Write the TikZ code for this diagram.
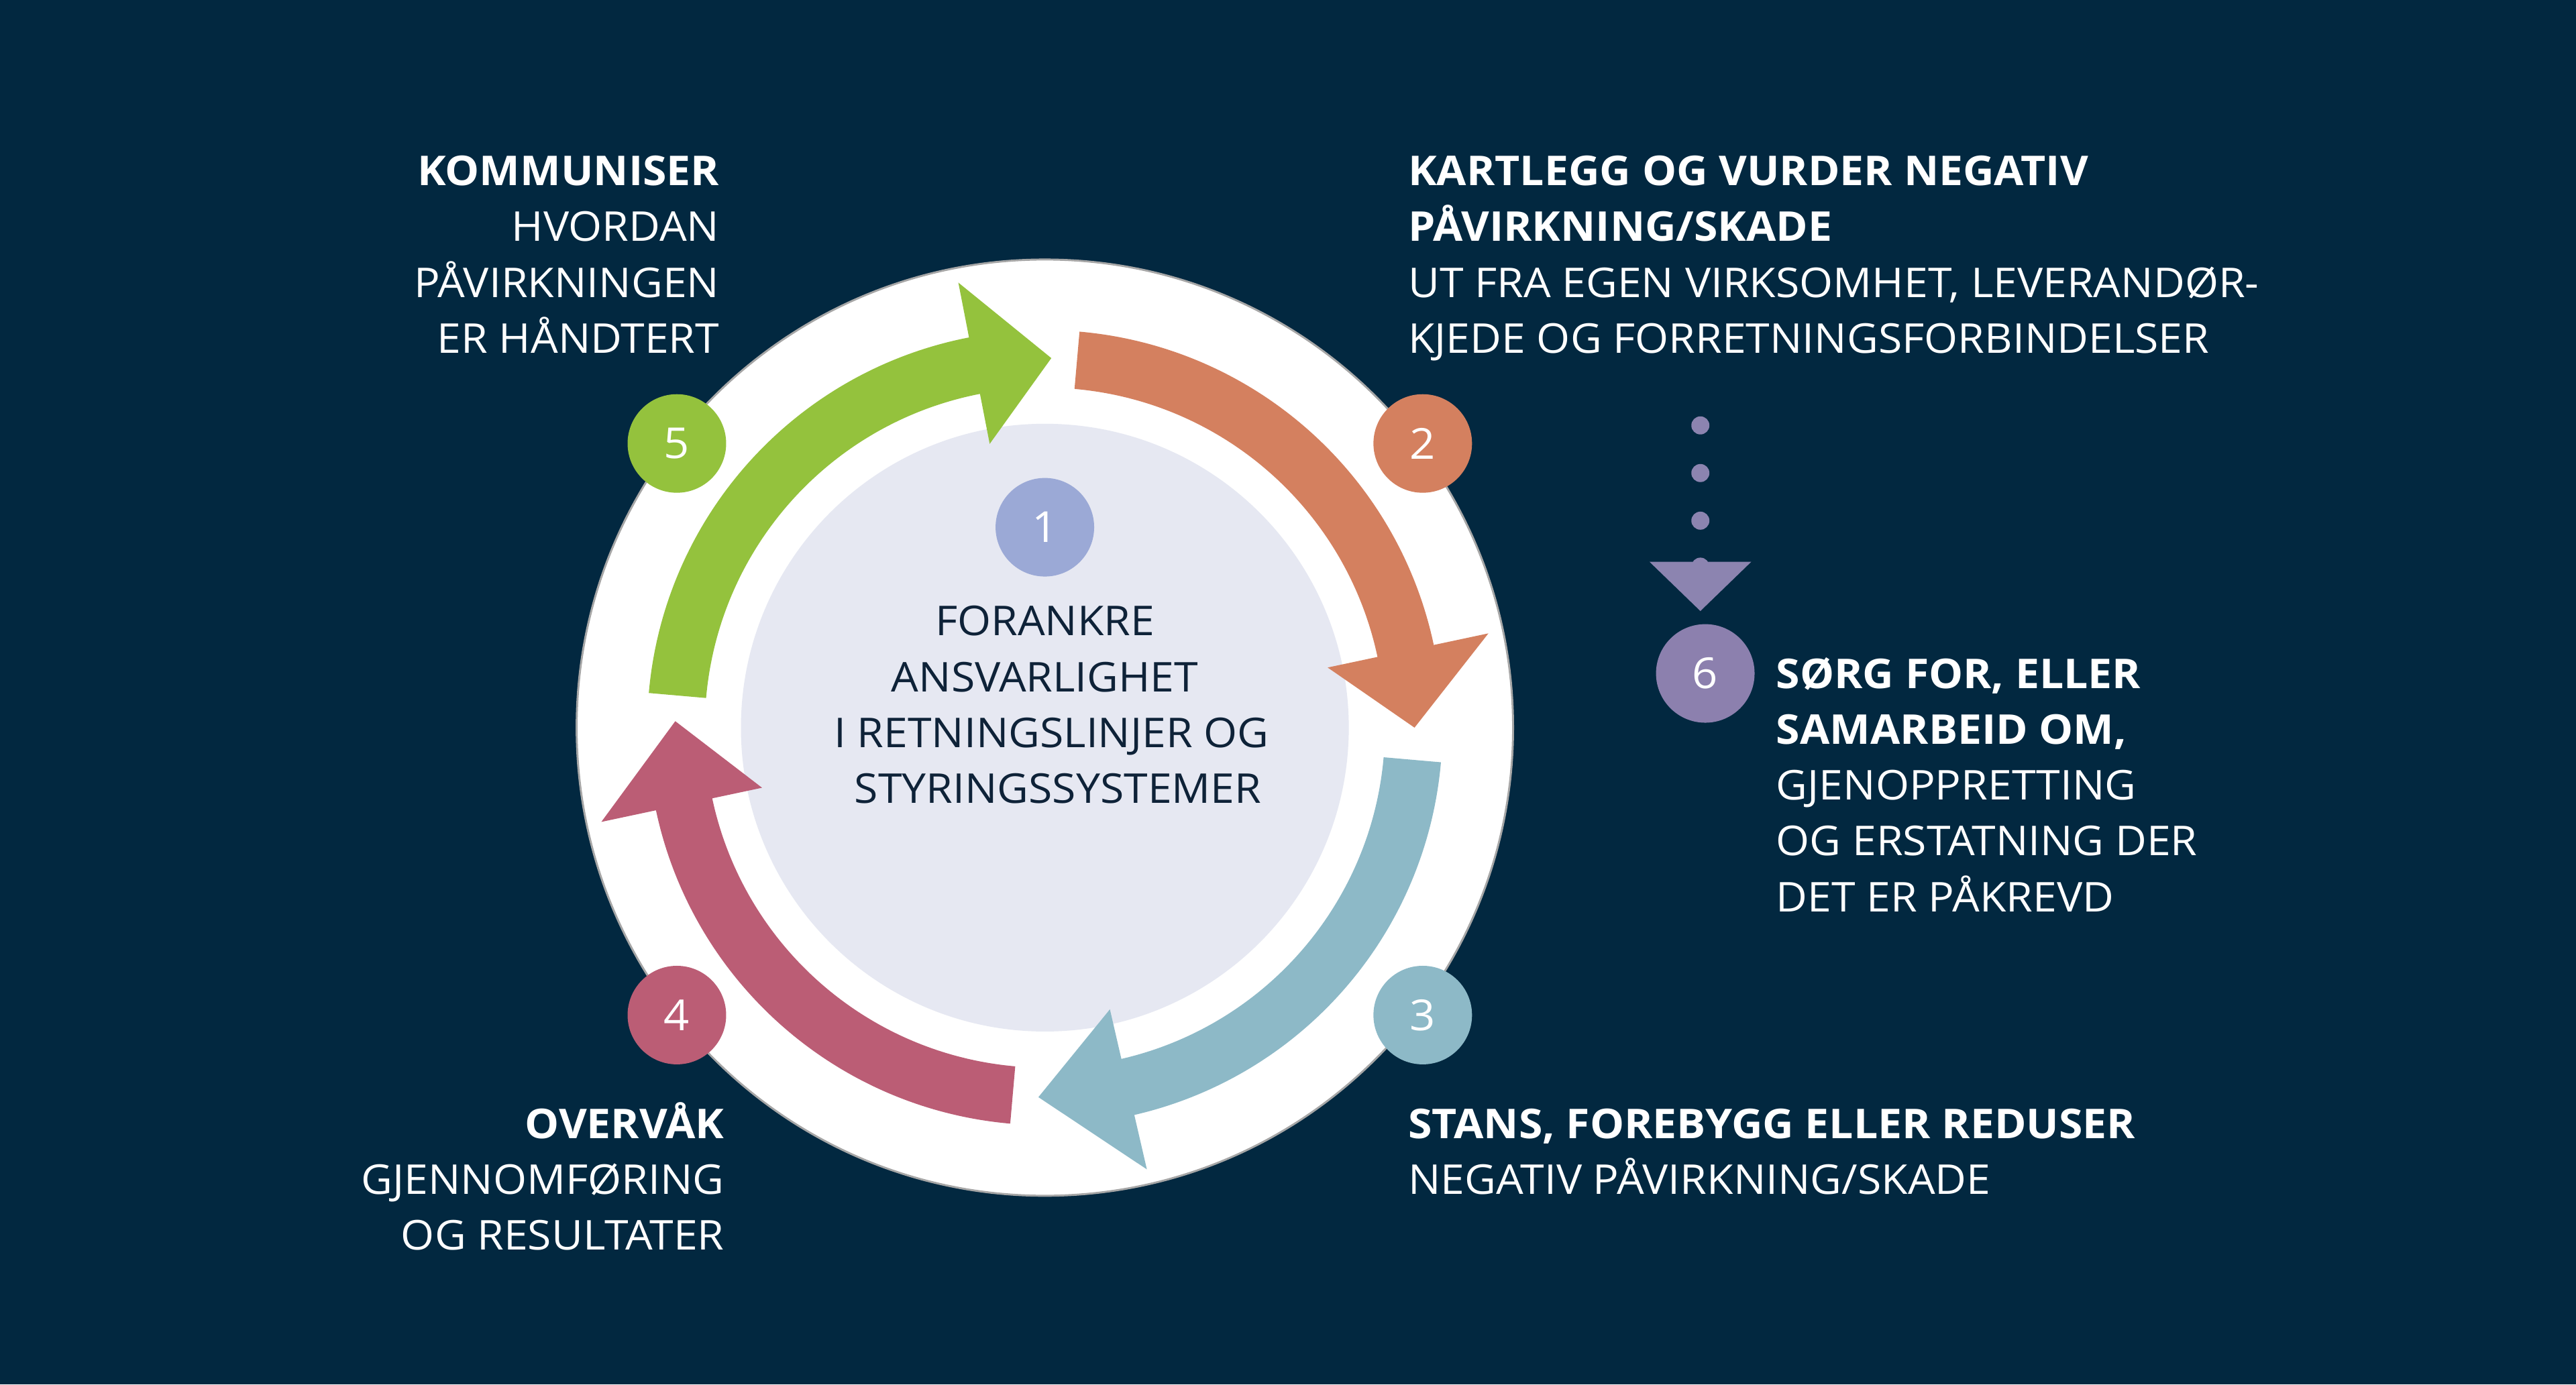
\documentclass[tikz,border=0pt]{standalone}
\usepackage{fontspec}
\setmainfont{Open Sans}[FakeStretch=1.05]
\begin{document}
\begin{tikzpicture}[x=1pt,y=1pt,
  txt/.style={text=white,font=\fontsize{25}{30}\selectfont,inner sep=0pt},
  btxt/.style={txt,font=\fontsize{25}{30}\selectfont\bfseries},
  ctxt/.style={txt,text=darktext},
  num/.style={circle,minimum size=60pt,inner sep=0pt,text=white,font=\fontsize{26}{30}\selectfont}]
\definecolor{bg}{HTML}{022840}
\definecolor{corange}{HTML}{D4805F}
\definecolor{cblue}{HTML}{8DB9C7}
\definecolor{cred}{HTML}{BB5D75}
\definecolor{cgreen}{HTML}{94C23D}
\definecolor{cpurple}{HTML}{8C80AE}
\definecolor{cone}{HTML}{9BA9D6}
\definecolor{inner}{HTML}{E6E8F2}
\definecolor{darktext}{HTML}{0E2238}
\definecolor{dotc}{HTML}{8C84B0}
\fill[bg] (0,0) rectangle (1568,843);
\useasboundingbox (0,0) rectangle (1568,843);
\coordinate (C) at (636,400);
\node[circle,fill=white,draw=gray!70,line width=1.2pt,minimum size=570pt,inner sep=0pt] (ring) at (C) {};
\node[circle,fill=inner,minimum size=370pt,inner sep=0pt] (core) at (C) {};
\newcommand{\cyclearrow}[4]{%
 \fill[#1,shift={(636,400)}] (#2:242) arc[start angle=#2,end angle=#3,radius=242]
   -- (#3:276) -- (#4:225) -- (#3:176) -- (#3:207)
   arc[start angle=#3,end angle=#2,radius=207] -- cycle;}
\cyclearrow{corange}{85}{12}{0}
\cyclearrow{cblue}{-5}{-77}{-91}
\cyclearrow{cred}{-95}{-168}{-181}
\cyclearrow{cgreen}{175}{101}{89}
\node[num,fill=cone] (n1) at (636,522) {1};
\node[num,fill=corange] (n2) at (866,573) {2};
\node[num,fill=cblue] (n3) at (866,225) {3};
\node[num,fill=cred] (n4) at (412,225) {4};
\node[num,fill=cgreen] (n5) at (412,573) {5};
\node[num,fill=cpurple] (n6) at (1038,433) {6};
% dotted link
\foreach \y/\n in {584/d1,555/d2,526/d3,498/d4}{\fill[dotc] (1035,\y) circle (5.5);}
\fill[dotc] (1004,501) -- (1066,501) -- (1035,471) -- cycle;
% center text
\node[ctxt,anchor=base] (c1) at (636,456) {FORANKRE};
\node[ctxt,anchor=base] (c2) at (636,422) {ANSVARLIGHET};
\node[ctxt,anchor=base] (c3) at (640,388) {I RETNINGSLINJER OG};
\node[ctxt,anchor=base] (c4) at (644,354) {STYRINGSSYSTEMER};
% block 5
\node[btxt,anchor=base east] (t5a) at (438,730) {KOMMUNISER};
\node[txt,anchor=base east] (t5b) at (438,696) {HVORDAN};
\node[txt,anchor=base east] (t5c) at (438,662) {PÅVIRKNINGEN};
\node[txt,anchor=base east] (t5d) at (438,628) {ER HÅNDTERT};
% block 2
\node[btxt,anchor=base west] (t2a) at (857,730) {KARTLEGG OG VURDER NEGATIV};
\node[btxt,anchor=base west] (t2b) at (857,696) {PÅVIRKNING/SKADE};
\node[txt,anchor=base west] (t2c) at (857,662) {UT FRA EGEN VIRKSOMHET, LEVERANDØR-};
\node[txt,anchor=base west] (t2d) at (857,628) {KJEDE OG FORRETNINGSFORBINDELSER};
% block 6
\node[btxt,anchor=base west] (t6a) at (1081,424) {SØRG FOR, ELLER};
\node[btxt,anchor=base west] (t6b) at (1081,390) {SAMARBEID OM,};
\node[txt,anchor=base west] (t6c) at (1081,356) {GJENOPPRETTING};
\node[txt,anchor=base west] (t6d) at (1081,322) {OG ERSTATNING DER};
\node[txt,anchor=base west] (t6e) at (1081,288) {DET ER PÅKREVD};
% block 3
\node[btxt,anchor=base west] (t3a) at (857,150) {STANS, FOREBYGG ELLER REDUSER};
\node[txt,anchor=base west] (t3b) at (857,116) {NEGATIV PÅVIRKNING/SKADE};
% block 4
\node[btxt,anchor=base east] (t4a) at (441,150) {OVERVÅK};
\node[txt,anchor=base east] (t4b) at (441,116) {GJENNOMFØRING};
\node[txt,anchor=base east] (t4c) at (441,82) {OG RESULTATER};
\end{tikzpicture}
\end{document}
